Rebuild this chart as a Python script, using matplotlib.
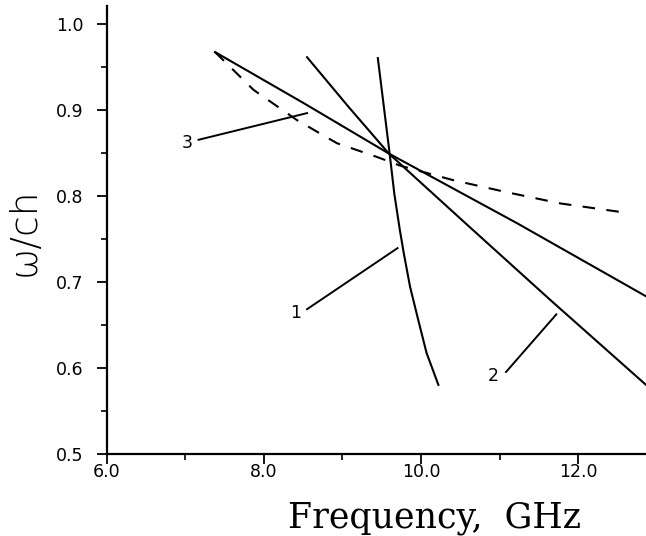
import matplotlib
matplotlib.use("Agg")
import matplotlib.pyplot as plt
from matplotlib.ticker import MultipleLocator

# Curve data (frequency GHz, omega/ch)
c1_x = [9.45, 9.60, 9.66, 9.73, 9.78, 9.86, 9.965, 10.07, 10.22]
c1_y = [0.960, 0.849, 0.802, 0.760, 0.733, 0.694, 0.655, 0.617, 0.580]

c2_x = [8.55, 9.08, 9.59, 10.60, 11.64, 12.86]
c2_y = [0.961, 0.903, 0.849, 0.765, 0.679, 0.580]

c3_x = [7.38, 8.50, 9.59, 11.22, 12.86]
c3_y = [0.967, 0.908, 0.849, 0.768, 0.683]

cd_x = [7.38, 7.87, 8.42, 8.93, 9.44, 9.73, 10.41, 11.09, 11.77, 12.54]
cd_y = [0.967, 0.923, 0.888, 0.861, 0.845, 0.835, 0.818, 0.804, 0.791, 0.781]

# Label annotations: (text, text x, text y, pointer start, pointer end)
lab_text = ["1", "2", "3"]
lab_x = [8.40, 10.92, 7.02]
lab_y = [0.663, 0.590, 0.861]
ptr_x0 = [8.55, 11.08, 7.17]
ptr_y0 = [0.668, 0.595, 0.865]
ptr_x1 = [9.70, 11.72, 8.55]
ptr_y1 = [0.739, 0.662, 0.896]

xticks = [6.0, 8.0, 10.0, 12.0]
yticks = [0.5, 0.6, 0.7, 0.8, 0.9, 1.0]

fig = plt.figure(figsize=(6.46, 5.36), dpi=100)
ax = fig.add_axes([0.1649, 0.1536, 1 - 0.1649, 0.9879 - 0.1536])

lw = 1.5
ax.plot(c1_x, c1_y, color="black", lw=lw)
ax.plot(c2_x, c2_y, color="black", lw=lw)
ax.plot(c3_x, c3_y, color="black", lw=lw)
ax.plot(cd_x, cd_y, color="black", lw=lw, linestyle=(0, (6, 5.5)))

for t, tx, ty, x0, y0, x1, y1 in zip(lab_text, lab_x, lab_y, ptr_x0, ptr_y0, ptr_x1, ptr_y1):
    ax.plot([x0, x1], [y0, y1], color="black", lw=1.4)
    ax.text(tx, ty, t, fontsize=12.5, ha="center", va="center", family="DejaVu Sans")

ax.set_xlim(6.0, 12.86)
ax.set_ylim(0.5, 1.02)
ax.set_xticks(xticks)
ax.set_xticklabels([f"{v:.1f}" for v in xticks])
ax.set_yticks(yticks)
ax.set_yticklabels([f"{v:.1f}" for v in yticks])
ax.xaxis.set_minor_locator(MultipleLocator(1.0))
ax.yaxis.set_minor_locator(MultipleLocator(0.05))

for s in ["top", "right"]:
    ax.spines[s].set_visible(False)
for s in ["left", "bottom"]:
    ax.spines[s].set_linewidth(1.6)

ax.tick_params(axis="both", which="major", direction="out", length=7.5, width=1.3,
               labelsize=12.5, colors="black")
ax.tick_params(axis="both", which="minor", direction="out", length=4, width=1.2)
ax.tick_params(axis="x", which="major", pad=-1)
ax.tick_params(axis="y", which="major", pad=9.0)
for lbl in ax.get_xticklabels() + ax.get_yticklabels():
    lbl.set_family("DejaVu Sans")

fig.text(0.672, 0.0165, "Frequency,  GHz", fontsize=25, family="DejaVu Serif",
         ha="center", va="baseline")
fig.text(0.037, 0.567, "ω/ch", fontsize=27, family="DejaVu Sans", rotation=90,
         ha="center", va="center", fontweight="light")

fig.savefig("out.png", dpi=100)
